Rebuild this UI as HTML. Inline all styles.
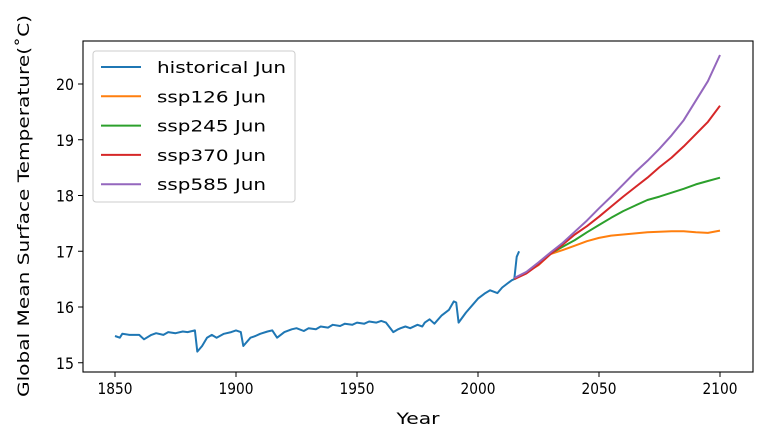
<!DOCTYPE html>
<html><head><meta charset="utf-8"><style>
body{margin:0;background:#fff;}
svg text{font-family:"DejaVu Sans","Liberation Sans",sans-serif;fill:#000;}
</style></head><body>
<svg width="767" height="442" viewBox="0 0 767 442">
<rect x="0" y="0" width="767" height="442" fill="#fff"/>
<g id="plot"></g>
<g id="axes"></g>
<g id="legend"></g>
</svg>
<script>
const histYears=[1850,1852,1853,1856,1860,1862,1865,1867,1870,1872,1875,1878,1880,1883,1884,1886,1888,1890,1892,1895,1898,1900,1902,1903,1906,1908,1910,1913,1915,1917,1920,1923,1925,1928,1930,1933,1935,1938,1940,1943,1945,1948,1950,1953,1955,1958,1960,1962,1965,1967,1968,1970,1972,1975,1977,1978,1980,1982,1985,1988,1990,1991,1992,1995,1998,2000,2003,2005,2008,2010,2013,2014,2015,2016,2017];
const histVals=[15.48,15.45,15.52,15.5,15.5,15.42,15.5,15.53,15.5,15.55,15.53,15.56,15.55,15.58,15.2,15.3,15.45,15.5,15.45,15.52,15.55,15.58,15.55,15.3,15.45,15.48,15.52,15.56,15.58,15.45,15.55,15.6,15.62,15.57,15.62,15.6,15.65,15.63,15.68,15.66,15.7,15.68,15.72,15.7,15.74,15.72,15.75,15.72,15.55,15.6,15.62,15.65,15.62,15.68,15.65,15.72,15.78,15.7,15.85,15.95,16.1,16.08,15.72,15.9,16.05,16.15,16.25,16.3,16.25,16.35,16.45,16.48,16.5,16.9,17.0];
const sspYears=[2015,2020,2025,2030,2035,2040,2045,2050,2055,2060,2065,2070,2075,2080,2085,2090,2095,2100];
const ssp126=[16.5,16.62,16.75,16.95,17.02,17.1,17.18,17.24,17.28,17.3,17.32,17.34,17.35,17.36,17.36,17.34,17.33,17.37];
const ssp245=[16.5,16.62,16.78,16.96,17.08,17.2,17.34,17.47,17.6,17.72,17.82,17.92,17.98,18.05,18.12,18.2,18.26,18.32];
const ssp370=[16.5,16.6,16.76,16.95,17.12,17.3,17.45,17.62,17.8,17.98,18.15,18.32,18.51,18.68,18.88,19.1,19.32,19.61];
const ssp585=[16.52,16.63,16.8,16.98,17.15,17.35,17.55,17.77,17.98,18.2,18.42,18.62,18.84,19.08,19.35,19.7,20.05,20.52];
const xTicks=[1850,1900,1950,2000,2050,2100];
const yTicks=[15,16,17,18,19,20];
const legendLabels=["historical Jun","ssp126 Jun","ssp245 Jun","ssp370 Jun","ssp585 Jun"];
const colors=["#1f77b4","#ff7f0e","#2ca02c","#d62728","#9467bd"];

const L=83,R=753,T=41,B=372;
const X=y=>115+(y-1850)*2.42;
const Y=v=>307-(v-16)*55.75;
const NS="http://www.w3.org/2000/svg";
function mk(tag,attrs,parent){const e=document.createElementNS(NS,tag);for(const k in attrs)e.setAttribute(k,attrs[k]);parent.appendChild(e);return e;}
const plot=document.getElementById('plot'),axes=document.getElementById('axes'),leg=document.getElementById('legend');
function line(xs,vs,c,name){
  const p=mk('polyline',{points:xs.map((x,i)=>X(x).toFixed(1)+','+Y(vs[i]).toFixed(1)).join(' '),fill:'none',stroke:c,'stroke-width':2,'stroke-linejoin':'round'},plot);
  
  
}
line(histYears,histVals,colors[0],'historical-line');
line(sspYears,ssp126,colors[1],'ssp126-line');
line(sspYears,ssp245,colors[2],'ssp245-line');
line(sspYears,ssp370,colors[3],'ssp370-line');
line(sspYears,ssp585,colors[4],'ssp585-line');
const fr=mk('rect',{x:L,y:T,width:R-L,height:B-T,fill:'none',stroke:'#000','stroke-width':1.1},axes);


xTicks.forEach(t=>{
  mk('line',{x1:X(t),x2:X(t),y1:B,y2:B+5,stroke:'#000'},axes);
  const tx=mk('text',{x:X(t),y:B+22,'text-anchor':'middle','font-size':16,textLength:35,lengthAdjust:'spacingAndGlyphs'},axes);tx.textContent=t;
  
  
});
yTicks.forEach(t=>{
  mk('line',{x1:L-5,x2:L,y1:Y(t),y2:Y(t),stroke:'#000'},axes);
  const tx=mk('text',{x:L-9,y:Y(t)+6,'text-anchor':'end','font-size':16,textLength:18,lengthAdjust:'spacingAndGlyphs'},axes);tx.textContent=t;
  
  
});
const xt=mk('text',{x:418,y:424,'text-anchor':'middle','font-size':16,textLength:43,lengthAdjust:'spacingAndGlyphs'},axes);xt.textContent='Year';


const yt=mk('text',{x:0,y:0,'text-anchor':'middle','font-size':16,textLength:382,lengthAdjust:'spacingAndGlyphs',transform:'translate(29,206) rotate(-90)'},axes);yt.textContent='Global Mean Surface Temperature(˚C)';


const lb=mk('rect',{x:93,y:51,width:202,height:151,rx:3,fill:'#fff','fill-opacity':0.8,stroke:'#ccc'},leg);


const legendWidths=[129,109,109,109,109];
legendLabels.forEach((l,i)=>{
  const y=67+i*29.3;
  const g=mk('g',{},leg);
  
  
  mk('line',{x1:101,x2:141,y1:y,y2:y,stroke:colors[i],'stroke-width':2},g);
  const t=mk('text',{x:157,y:y+6,'font-size':16,textLength:legendWidths[i],lengthAdjust:'spacingAndGlyphs'},g);t.textContent=l;
});
</script>
</body></html>
